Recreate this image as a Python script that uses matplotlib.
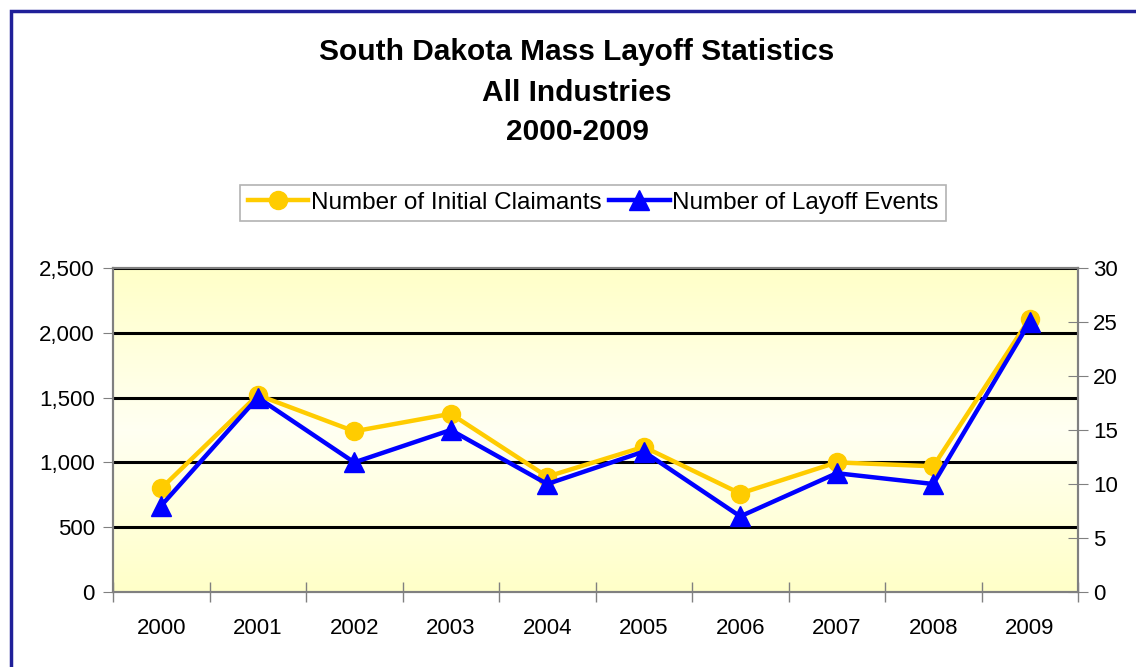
import numpy as np
import matplotlib
matplotlib.use('Agg')
import matplotlib.pyplot as plt
from matplotlib.patches import Rectangle
from matplotlib.colors import LinearSegmentedColormap

plt.rcParams['font.family'] = ['Liberation Sans', 'DejaVu Sans']

years = ['2000', '2001', '2002', '2003', '2004', '2005', '2006', '2007', '2008', '2009']
claimants = [800, 1520, 1240, 1375, 890, 1120, 760, 1000, 970, 2110]
events = [8, 18, 12, 15, 10, 13, 7, 11, 10, 25]

W, H = 1136, 667
fig = plt.figure(figsize=(W / 100, H / 100), dpi=100)

# dark blue frame running off the right and bottom edges
fig.patches.append(Rectangle((11 / W, -0.1), 1.2, 1 - 11 / H + 0.1,
                             transform=fig.transFigure, fill=False,
                             edgecolor='#1f1f99', linewidth=2.5))

ax = fig.add_axes([113 / W, (H - 592) / H, 965 / W, 324 / H])
x = np.arange(len(years))

# yellow-white-yellow gradient for the plot area
grad = np.abs(np.linspace(-1, 1, 256)).reshape(-1, 1)
cmap_bg = LinearSegmentedColormap.from_list('bg', ['#fffff2', '#ffffc8'])
ax.imshow(grad, aspect='auto', cmap=cmap_bg, extent=(-0.5, 9.5, 0, 2500),
          origin='lower', zorder=0)

for yv in [500, 1000, 1500, 2000, 2500]:
    ax.axhline(yv, color='black', linewidth=2.2, zorder=1)

ax.set_xlim(-0.5, 9.5)
ax.set_ylim(0, 2500)
ax.set_yticks([0, 500, 1000, 1500, 2000, 2500])
ax.set_yticklabels(['0', '500', '1,000', '1,500', '2,000', '2,500'])
ax.set_xticks(np.arange(-0.5, 10, 1))
ax.set_xticklabels([])
ax.set_xticks(x, minor=True)
ax.set_xticklabels(years, minor=True)
ax.tick_params(axis='x', which='major', direction='inout', length=14,
               color='#808080', width=1)
ax.tick_params(axis='x', which='minor', length=0, labelsize=16, pad=19)
ax.tick_params(axis='y', direction='out', length=7, color='#808080',
               labelsize=16, pad=6)
for s in ax.spines.values():
    s.set_color('#808080')
    s.set_linewidth(1.5)

ax2 = ax.twinx()
ax2.set_ylim(0, 30)
ax2.set_yticks([0, 5, 10, 15, 20, 25, 30])
ax2.tick_params(axis='y', direction='inout', length=14, color='#808080',
                labelsize=16, pad=4)
for s in ax2.spines.values():
    s.set_color('#808080')
    s.set_linewidth(1.5)

l1, = ax.plot(x, claimants, color='#ffcc00', linewidth=3.2, marker='o',
              markersize=13, zorder=3, label='Number of Initial Claimants')
l2, = ax2.plot(x, events, color='#0000ff', linewidth=3.2, marker='^',
               markersize=14, zorder=4, label='Number of Layoff Events')

for txt, yp in [('South Dakota Mass Layoff Statistics', 52),
                ('All Industries', 93), ('2000-2009', 132)]:
    fig.text(577 / W, 1 - yp / H, txt, ha='center', va='center',
             fontsize=21.5, fontweight='bold')

leg = fig.legend([l1, l2], [l1.get_label(), l2.get_label()],
                 loc='center', bbox_to_anchor=(593 / W, 1 - 203 / H),
                 ncol=2, fontsize=17.5, frameon=True, fancybox=False,
                 handlelength=2.5, handletextpad=0.1, columnspacing=0.3,
                 borderpad=0.3, borderaxespad=0)
leg.get_frame().set_edgecolor('#a0a0a0')
leg.get_frame().set_linewidth(1.2)

fig.savefig('out.png', dpi=100)
